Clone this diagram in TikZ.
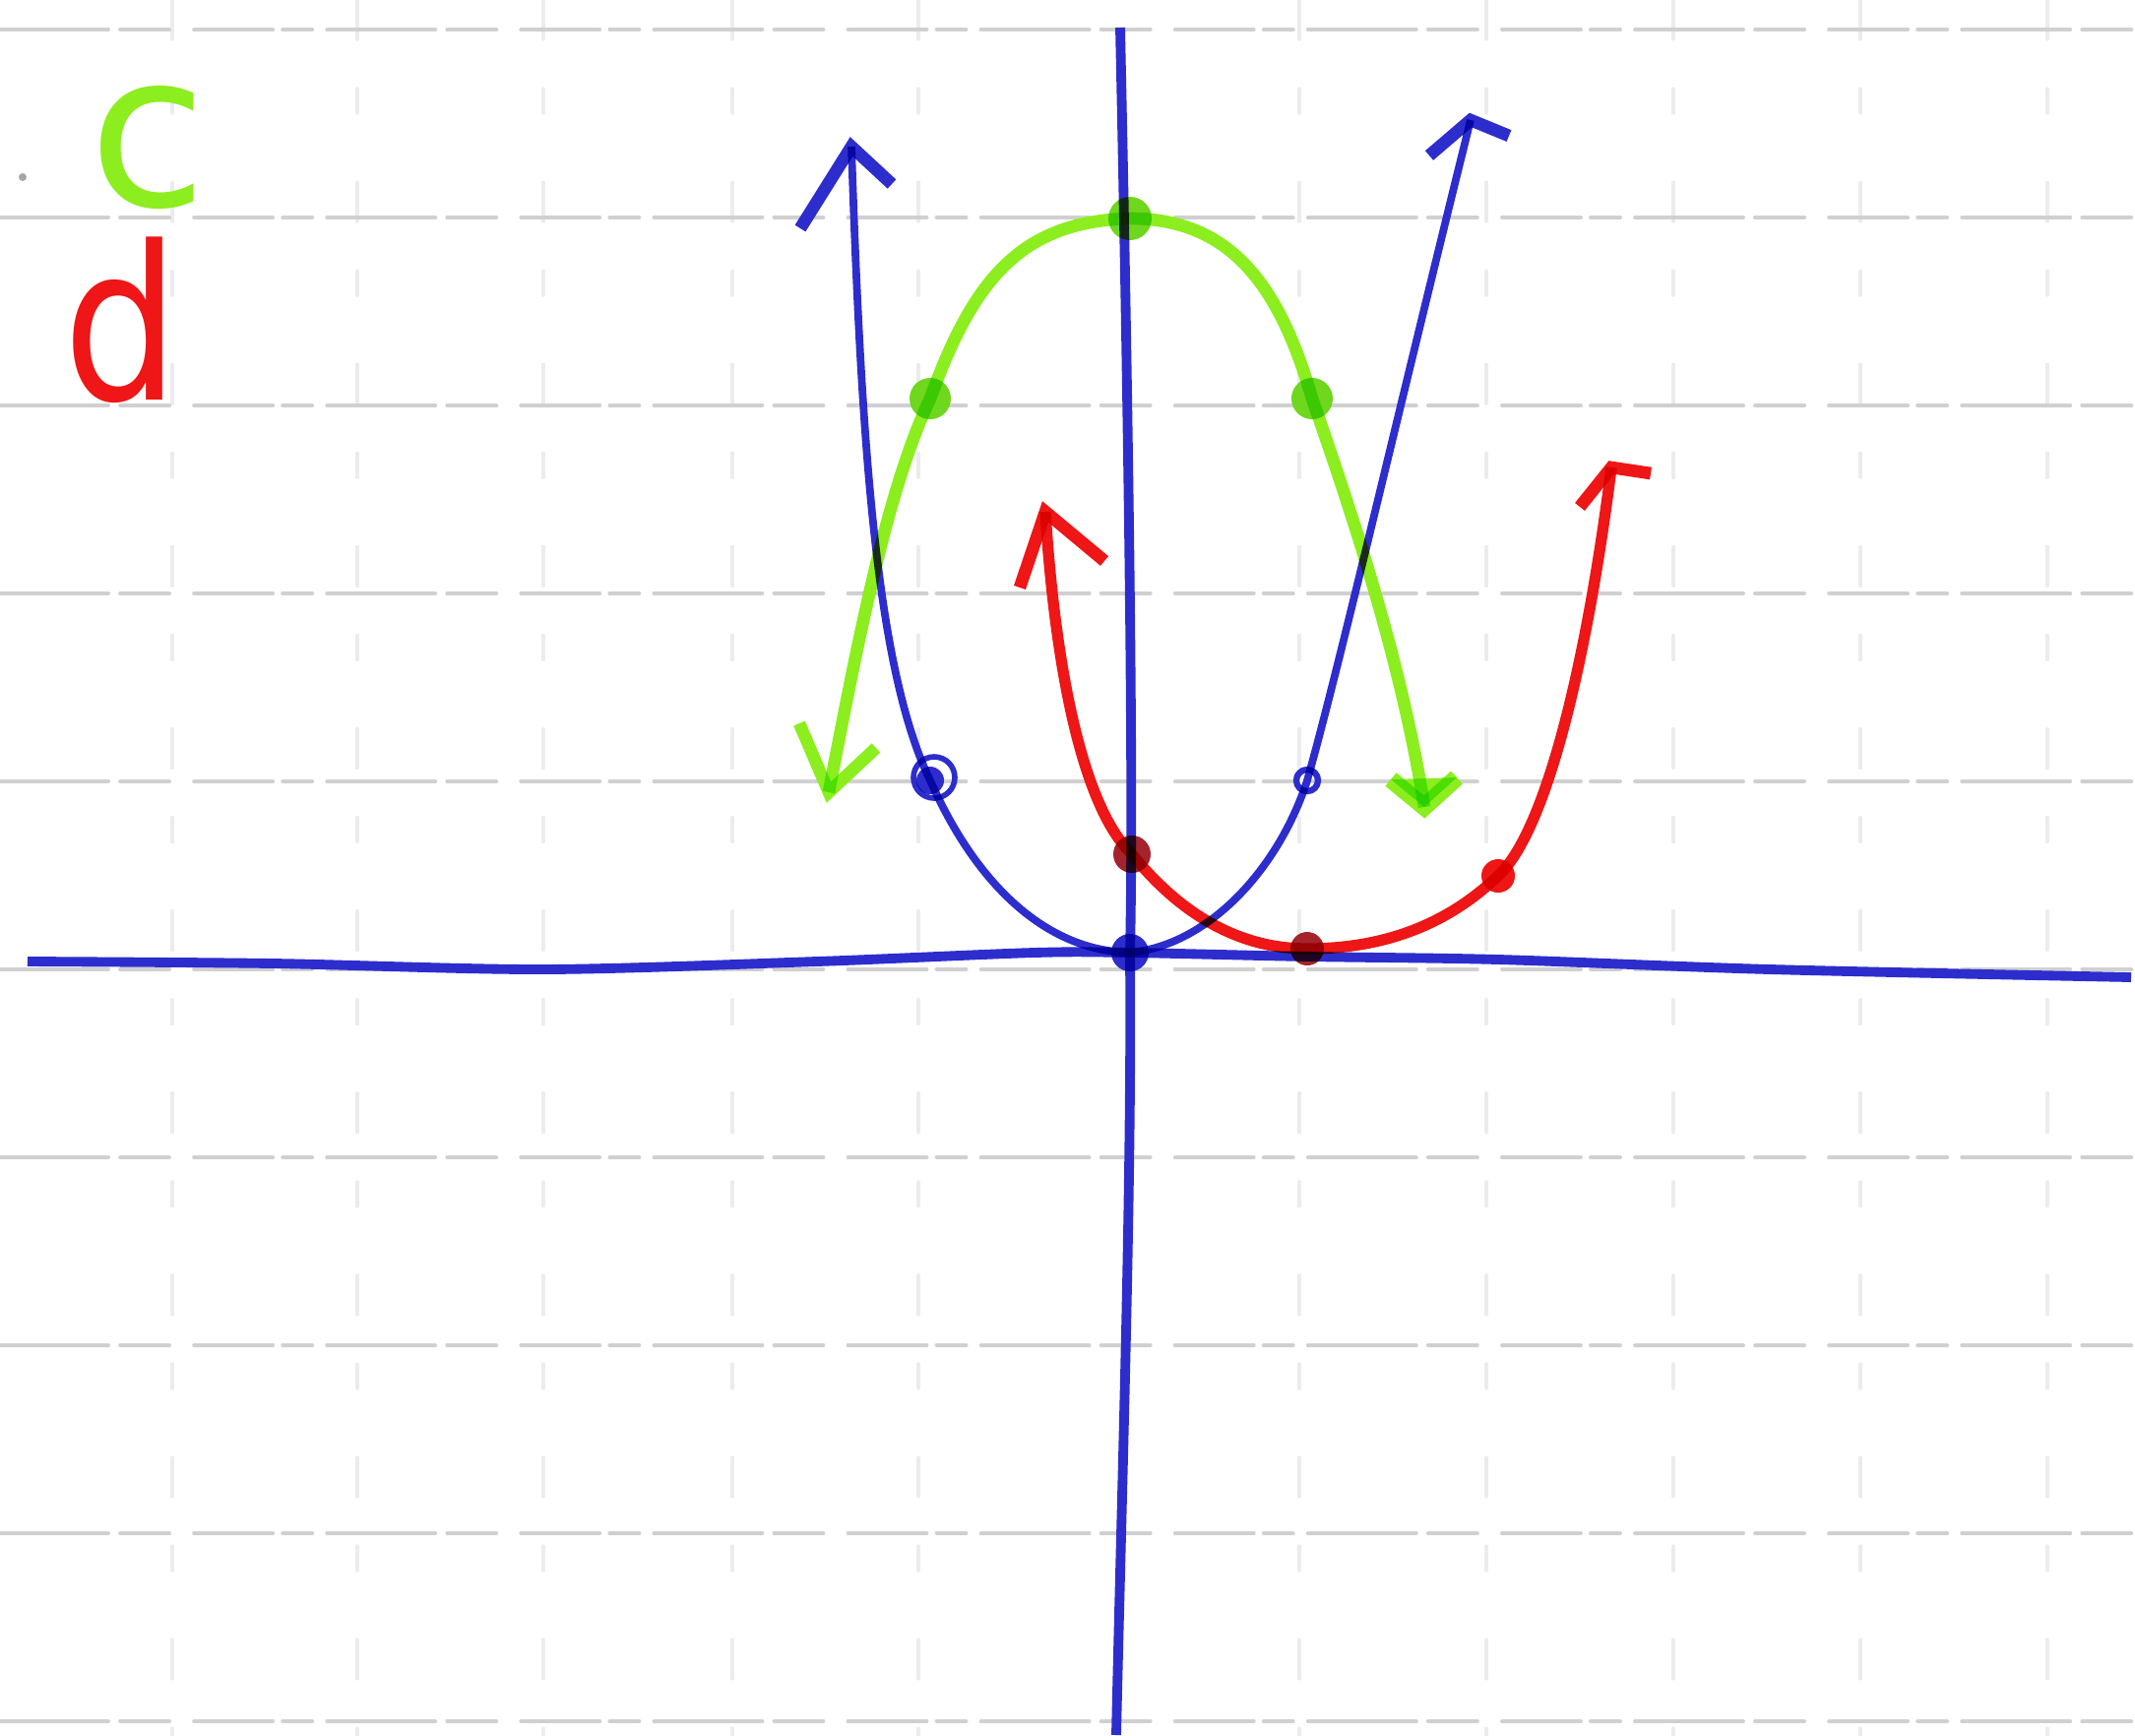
\documentclass[tikz,border=0pt]{standalone}
\usepackage{fontspec}
\newfontfamily\hand{DejaVu Sans}
\definecolor{penblue}{RGB}{45,45,205}
\definecolor{pengreen}{RGB}{140,238,30}
\definecolor{penred}{RGB}{238,22,22}
\definecolor{dotred}{RGB}{165,35,45}
\definecolor{dotgreen}{RGB}{110,215,30}
\definecolor{gridgray}{RGB}{208,208,208}
\definecolor{gridfaint}{RGB}{236,236,236}
\begin{document}
\begin{tikzpicture}[x=0.01cm,y=-0.01cm, line cap=round, line join=round,
  hgrid/.style={gridgray, line width=1.1pt, dash pattern=on 1.1cm off 0.12cm on 0.5cm off 0.25cm on 0.8cm off 0.1cm on 0.3cm off 0.15cm},
  vgrid/.style={gridfaint, line width=0.9pt, dash pattern=on 0.4cm off 0.5cm on 0.25cm off 0.7cm},
  blueline/.style={penblue, line width=2.2pt},
  axisline/.style={penblue, line width=2.8pt},
  greenline/.style={pengreen, line width=3.6pt},
  redline/.style={penred, line width=3.2pt},
  tipline/.style={line width=3.6pt},
  lbl/.style={inner sep=0pt, font=\hand\fontsize{62}{62}\selectfont}
]
\fill[white] (0,0) rectangle (2169,1763);
\useasboundingbox (0,0) rectangle (2169,1763);

% grid paper
\foreach \x in {175,363,552,744,933,1320,1510,1700,1890,2080}
  \draw[vgrid] (\x,0) -- (\x,1763);
\foreach \y in {30,221,412,603,794,985,1176,1367,1558,1749}
  \draw[hgrid] (0,\y) -- (2169,\y);

% speck
\fill[gray!70] (23,180) circle (4);

% labels
\node[lbl, text=pengreen] (labc) at (150,150) {c};
\node[lbl, text=penred, xscale=0.85] (labd) at (123,325) {d};

\begin{scope}[blend group=multiply]
% green curve (downward)
\coordinate (gL) at (842,805);
\coordinate (gR) at (1447,820);
\coordinate (g1) at (945,405);
\coordinate (g2) at (1148,222);
\coordinate (g3) at (1333,405);
\draw[greenline] (gL) .. controls (870,660) and (900,500) .. (g1)
  .. controls (990,280) and (1040,225) .. (g2)
  .. controls (1250,222) and (1300,290) .. (g3)
  .. controls (1380,540) and (1425,680) .. (gR);
\draw[pengreen, tipline] (812,735) -- (gL) -- (890,760);
\draw[pengreen, line width=5pt] (1413,792) -- (gR) -- (1480,790);
\fill[pengreen] (1413,792) -- (gR) -- (1480,790) -- cycle;
\fill[dotgreen] (g1) circle (21);
\fill[dotgreen] (g3) circle (21);
\fill[dotgreen] (g2) circle (22);

% red curve (upward, shifted right)
\coordinate (rL) at (1062,520);
\coordinate (rR) at (1637,475);
\coordinate (r1) at (1150,868);
\coordinate (r2) at (1328,964);
\coordinate (r3) at (1522,890);
\draw[redline] (rL) .. controls (1072,680) and (1100,820) .. (r1)
  .. controls (1200,930) and (1260,964) .. (r2)
  .. controls (1420,964) and (1480,930) .. (r3)
  .. controls (1575,840) and (1615,650) .. (rR);
\draw[penred, tipline] (1036,597) -- (rL) -- (1122,570);
\draw[penred, tipline] (1605,515) -- (rR) -- (1677,481);
\fill[dotred] (r1) circle (19);
\fill[dotred] (r2) circle (17);
\fill[penred] (r3) circle (17);

% blue narrow parabola
\coordinate (bL) at (865,149);
\coordinate (bR) at (1494,122);
\coordinate (b1) at (945,793);
\coordinate (b0) at (1148,968);
\coordinate (b2) at (1328,793);
\draw[blueline] (bL) .. controls (875,450) and (890,680) .. (b1)
  .. controls (990,895) and (1060,966) .. (b0)
  .. controls (1230,960) and (1300,880) .. (b2)
  .. controls (1360,680) and (1420,420) .. (bR);
\draw[penblue, tipline] (813,232) -- (bL) -- (906,187);
\draw[penblue, tipline] (1452,158) -- (bR) -- (1533,138);
\fill[penblue] (b1) circle (14);
\draw[penblue, line width=1.6pt] (949,790) circle (21);
\draw[penblue, line width=1.8pt] (b2) circle (11);

% axes
\coordinate (yT) at (1138,28);
\coordinate (yB) at (1134,1763);
\draw[axisline] plot[smooth, tension=0.5] coordinates {(28,977) (277,979) (553,985) (830,977) (1051,968) (1148,968) (1328,972) (1522,975) (1798,985) (2165,993)};
\draw[axisline] (yT) .. controls (1146,400) and (1152,800) .. (b0) .. controls (1150,1200) and (1140,1500) .. (yB);
\fill[penblue] (b0) circle (19);
\end{scope}
\end{tikzpicture}
\end{document}
